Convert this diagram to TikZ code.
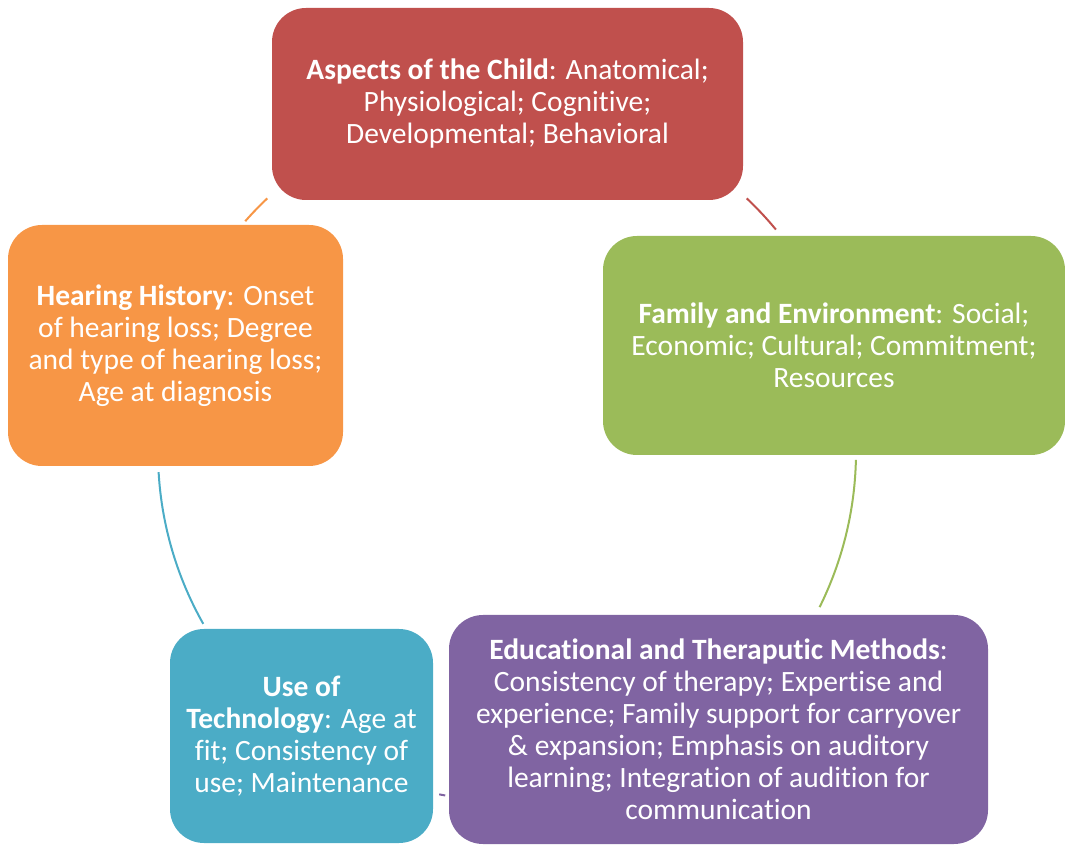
\documentclass[tikz,border=0pt]{standalone}
\usepackage{fontspec}
\setmainfont[Ligatures=NoCommon]{Carlito}
\definecolor{childred}{HTML}{C0504D}
\definecolor{familygreen}{HTML}{9BBB59}
\definecolor{methodpurple}{HTML}{8064A2}
\definecolor{techblue}{HTML}{4BACC6}
\definecolor{historyorange}{HTML}{F79646}
\begin{document}
\begin{tikzpicture}[x=1pt, y=1pt,
	box/.style={rounded corners=34pt, text=white, align=center, inner sep=0pt,
		font=\fontsize{29.5}{32}\selectfont},
	link/.style={line width=2pt}]
	\useasboundingbox (0,0) rectangle (1065,846);

	% the five boxes
	\node[box, fill=childred, minimum width=471pt, minimum height=192pt] (child) at (507.5, 742)
		{\textbf{Aspects of the Child}: Anatomical;\\ Physiological; Cognitive;\\ Developmental; Behavioral};
	\node[box, fill=familygreen, minimum width=462pt, minimum height=219pt] (family) at (834, 500.5)
		{\textbf{Family and Environment}: Social;\\ Economic; Cultural; Commitment;\\ Resources};
	\node[box, fill=methodpurple, minimum width=539pt, minimum height=229pt] (methods) at (718.5, 116.5)
		{\textbf{Educational and Theraputic Methods}:\\ Consistency of therapy; Expertise and\\ experience; Family support for carryover\\ \& expansion; Emphasis on auditory\\ learning; Integration of audition for\\ communication};
	\node[box, fill=techblue, minimum width=263pt, minimum height=214pt] (tech) at (301.5, 110)
		{\textbf{Use of}\\ \textbf{Technology}: Age at\\ fit; Consistency of\\ use; Maintenance};
	\node[box, fill=historyorange, minimum width=335pt, minimum height=241pt] (history) at (175.5, 500.5)
		{\textbf{Hearing History}: Onset\\ of hearing loss; Degree\\ and type of hearing loss;\\ Age at diagnosis};

	% the cycle arcs between the boxes
	\coordinate (c) at (507, 394);
	\coordinate (a1) at ([shift={(46.6:349)}]c);
	\coordinate (a2) at ([shift={(-1.3:349)}]c);
	\coordinate (a3) at ([shift={(-100.2:349)}]c);
	\coordinate (a4) at ([shift={(209.5:349)}]c);
	\coordinate (a5) at ([shift={(138.6:349)}]c);

	\draw[link, childred] (a1) arc[start angle=46.6, end angle=39.6, radius=349];
	\draw[link, familygreen] (a2) arc[start angle=-1.3, end angle=-26.4, radius=349];
	\draw[link, methodpurple] (a3) arc[start angle=-100.2, end angle=-101.2, radius=349];
	\draw[link, techblue] (a4) arc[start angle=209.5, end angle=183.3, radius=349];
	\draw[link, historyorange] (a5) arc[start angle=138.6, end angle=133.4, radius=349];
\end{tikzpicture}
\end{document}
